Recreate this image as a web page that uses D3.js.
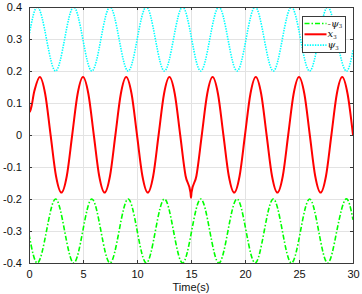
<!DOCTYPE html>
<html>
<head>
<meta charset="utf-8">
<script src="https://cdn.jsdelivr.net/npm/d3@7"></script>
<style>
    body { margin: 0; background: #fff; }
    svg { display: block; font-family: "Liberation Sans", Arial, sans-serif; }
</style>
</head>
<body>
<div id="chart"></div>
<script>
// tick labels
const timeTicks = [0, 5, 10, 15, 20, 25, 30];
const valueTicks = [-0.4, -0.3, -0.2, -0.1, 0, 0.1, 0.2, 0.3, 0.4];

// psi_3 and -psi_3, read at peaks / troughs / mid crossings
const psiTime = [0, 0.78, 1.62, 2.46, 3.30, 4.14, 4.98, 5.82, 6.66, 7.50, 8.34, 9.18, 10.02,
    10.86, 11.70, 12.54, 13.38, 14.22, 15.06, 15.90, 16.74, 17.58, 18.42, 19.26, 20.10,
    20.94, 21.78, 22.62, 23.46, 24.30, 25.14, 25.98, 26.82, 27.66, 28.50, 29.34, 30];
const psiValues = [0.31, 0.4, 0.3, 0.2, 0.3, 0.4, 0.3, 0.2, 0.3, 0.4, 0.3, 0.2, 0.3,
    0.4, 0.3, 0.2, 0.3, 0.4, 0.3, 0.2, 0.3, 0.4, 0.3, 0.2, 0.3,
    0.4, 0.3, 0.2, 0.3, 0.4, 0.3, 0.2, 0.3, 0.4, 0.3, 0.2, 0.265];
const negPsiValues = [-0.31, -0.4, -0.3, -0.2, -0.3, -0.4, -0.3, -0.2, -0.3, -0.4, -0.3, -0.2, -0.3,
    -0.4, -0.3, -0.2, -0.3, -0.4, -0.3, -0.2, -0.3, -0.4, -0.3, -0.2, -0.3,
    -0.4, -0.3, -0.2, -0.3, -0.4, -0.3, -0.2, -0.3, -0.4, -0.3, -0.2, -0.265];

// x_3
const x3Time = [0, 0.08, 0.5, 1, 1.5, 2, 2.5, 3, 3.5, 4, 4.5, 5, 5.5, 6, 6.5, 7, 7.5, 8, 8.5, 9, 9.5,
    10, 10.5, 11, 11.5, 12, 12.5, 13, 13.5, 14, 14.5, 14.95, 15, 15.05, 15.5, 16, 16.5, 17, 17.5,
    18, 18.5, 19, 19.5, 20, 20.5, 21, 21.5, 22, 22.5, 23, 23.5, 24, 24.5, 25, 25.5, 26, 26.5,
    27, 27.5, 28, 28.5, 29, 29.5, 30];
const x3Values = [0.11, 0.072, 0.138, 0.181, 0.128, 0, -0.128, -0.18, -0.128, 0, 0.128, 0.181, 0.128, 0, -0.128, -0.18, -0.128, 0, 0.128, 0.181, 0.128,
    0, -0.128, -0.18, -0.128, 0, 0.128, 0.181, 0.128, 0, -0.128, -0.179, -0.196, -0.179, -0.128, 0, 0.128, 0.181, 0.128,
    0, -0.128, -0.18, -0.128, 0, 0.128, 0.181, 0.128, 0, -0.128, -0.18, -0.128, 0, 0.128, 0.181, 0.128, 0, -0.128,
    -0.18, -0.128, 0, 0.128, 0.181, 0.128, 0];

const seriesNames = ["-\u03C8", "x", "\u03C8"];

class TimeChart {
    constructor(element, configs = {}) {
        let defaultConfig = {
            width: 362,
            height: 294,
            margin: { top: 7, right: 9, bottom: 31, left: 29 }
        };
        this.config = Object.assign({}, defaultConfig, configs);
        this.svg = d3.select(element).append("svg")
            .attr("width", this.config.width)
            .attr("height", this.config.height);
        this.width = this.config.width - this.config.margin.left - this.config.margin.right;
        this.height = this.config.height - this.config.margin.top - this.config.margin.bottom;
        this.series = [
            { name: seriesNames[0], color: "#00ff00", dash: "5,2,1.5,2", width: 1.6, curve: d3.curveNatural,
              data: psiTime.map((t, i) => ({ t: t, v: negPsiValues[i] })) },
            { name: seriesNames[1], color: "#ff0000", dash: null, width: 2, curve: d3.curveMonotoneX,
              data: x3Time.map((t, i) => ({ t: t, v: x3Values[i] })) },
            { name: seriesNames[2], color: "#00ffff", dash: "1.4,1.2", width: 1.6, curve: d3.curveNatural,
              data: psiTime.map((t, i) => ({ t: t, v: psiValues[i] })) }
        ];
        this.draw();
    }

    generateRange() {
        this.x = d3.scaleLinear().domain([0, 30]).range([0, this.width]);
        this.y = d3.scaleLinear().domain([-0.4, 0.4]).range([this.height, 0]);
    }

    generateContainer() {
        this.g = this.svg.append("g")
            .attr("transform", "translate(" + this.config.margin.left + "," + this.config.margin.top + ")");
        this.g.append("defs").append("clipPath")
            .attr("id", "plot-clip")
            .append("rect")
            .attr("width", this.width)
            .attr("height", this.height);
    }

    drawGrid() {
        let grid = this.g.append("g").attr("class", "grid")
            .attr("stroke", "#e3e3e3").attr("stroke-width", 1);
        grid.selectAll(".gx").data(timeTicks).enter().append("line")
            .attr("x1", d => Math.round(this.x(d)) + 0.5).attr("x2", d => Math.round(this.x(d)) + 0.5)
            .attr("y1", 0).attr("y2", this.height);
        grid.selectAll(".gy").data(valueTicks).enter().append("line")
            .attr("x1", 0).attr("x2", this.width)
            .attr("y1", d => Math.round(this.y(d)) + 0.5).attr("y2", d => Math.round(this.y(d)) + 0.5);
    }

    drawAxes() {
        let fmt = d => d === 0 ? "0" : d3.format(".1f")(d).replace("\u2212", "-");
        let xAxis = this.g.append("g")
            .attr("transform", "translate(0," + this.height + ")")
            .call(d3.axisBottom(this.x).tickValues(timeTicks).tickSize(-3).tickPadding(7));
        let xTop = this.g.append("g")
            .call(d3.axisTop(this.x).tickValues(timeTicks).tickSize(-3).tickFormat(""));
        let yAxis = this.g.append("g")
            .call(d3.axisLeft(this.y).tickValues(valueTicks).tickSize(-3).tickPadding(7).tickFormat(fmt));
        let yRight = this.g.append("g")
            .attr("transform", "translate(" + this.width + ",0)")
            .call(d3.axisRight(this.y).tickValues(valueTicks).tickSize(-3).tickFormat(""));
        [xAxis, xTop, yAxis, yRight].forEach(a => {
            a.select(".domain").attr("stroke", "#3a3a3a");
            a.selectAll(".tick line").attr("stroke", "#3a3a3a");
            a.selectAll("text").attr("font-size", 11).attr("fill", "#111")
                .attr("font-family", "Liberation Sans, Arial, sans-serif");
        });
        this.g.append("text")
            .attr("x", this.width / 2).attr("y", this.height + 28)
            .attr("text-anchor", "middle")
            .attr("font-size", 11).attr("fill", "#111")
            .text("Time(s)");
    }

    drawLines() {
        let lines = this.g.append("g").attr("clip-path", "url(#plot-clip)");
        this.series.forEach(s => {
            let line = d3.line().curve(s.curve)
                .x(d => this.x(d.t))
                .y(d => this.y(d.v));
            lines.append("path")
                .datum(s.data)
                .attr("fill", "none")
                .attr("stroke", s.color)
                .attr("stroke-width", s.width)
                .attr("stroke-dasharray", s.dash)
                .attr("d", line);
        });
    }

    drawLegend() {
        let lg = this.svg.append("g").attr("transform", "translate(302.5,16.5)");
        lg.append("rect")
            .attr("width", 43).attr("height", 36)
            .attr("fill", "#fff").attr("stroke", "#3a3a3a").attr("stroke-width", 1);
        let rows = lg.selectAll(".row").data(this.series).enter().append("g")
            .attr("transform", (d, i) => "translate(0," + (7 + i * 10.8) + ")");
        rows.append("line")
            .attr("x1", 2).attr("x2", 24)
            .attr("stroke", d => d.color)
            .attr("stroke-width", d => d.width)
            .attr("stroke-dasharray", d => d.dash);
        let txt = rows.append("text")
            .attr("x", 25).attr("y", 3)
            .attr("font-size", 10)
            .attr("font-family", "DejaVu Serif, serif")
            .attr("font-style", "italic")
            .attr("fill", "#111");
        txt.append("tspan").text(d => d.name);
        txt.append("tspan").attr("font-size", 5.5).attr("dy", 1.5).attr("font-style", "normal").text("3");
    }

    draw() {
        this.generateRange();
        this.generateContainer();
        this.drawGrid();
        this.drawLines();
        this.drawAxes();
        this.drawLegend();
    }
}

new TimeChart("#chart");
</script>
</body>
</html>
